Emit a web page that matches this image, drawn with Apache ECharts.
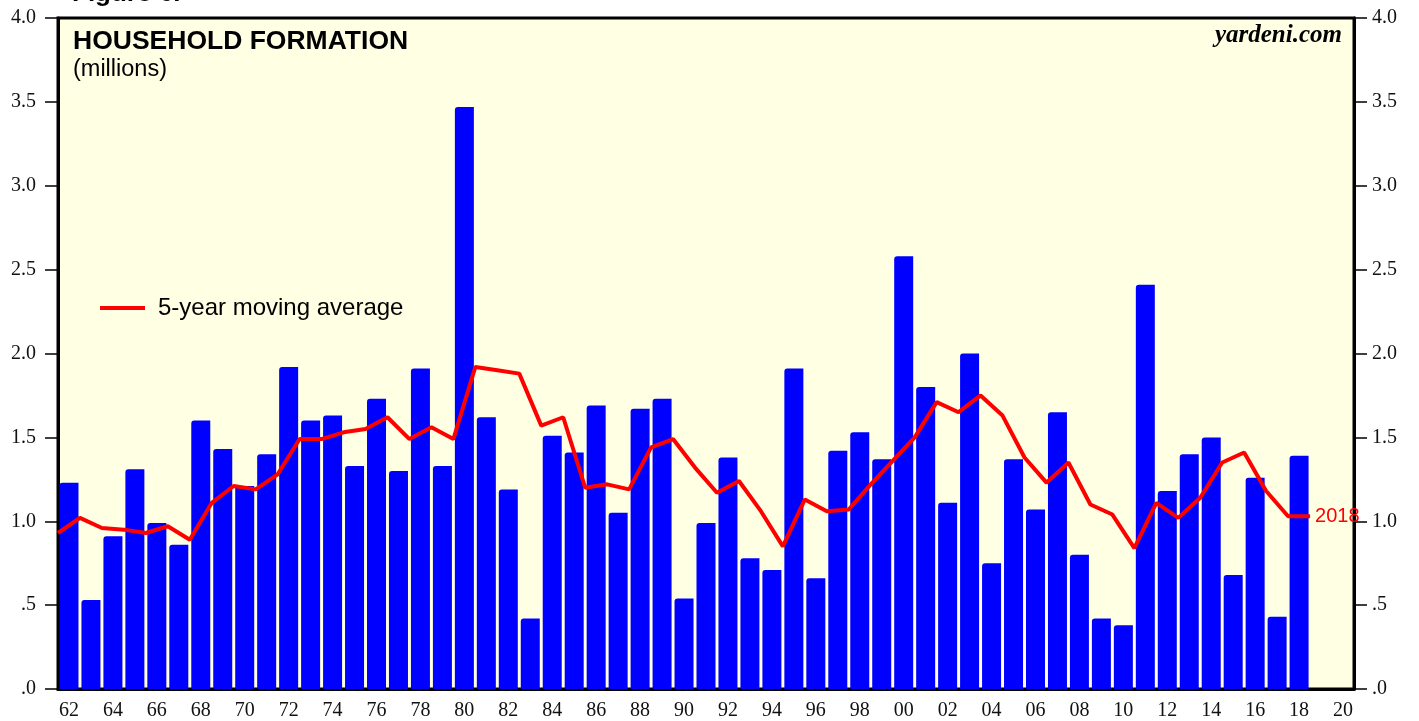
<!DOCTYPE html>
<html>
<head>
<meta charset="utf-8">
<title>Household Formation</title>
<script src="https://cdn.jsdelivr.net/npm/echarts@6/dist/echarts.min.js"></script>
<style>
  html, body { margin: 0; padding: 0; background: #fff; }
  #chart { width: 1419px; height: 721px; }
</style>
</head>
<body>
<div id="chart"></div>
<script>
// years on the x axis (axis runs to 2020, bars stop at 2018)
var years = [];
for (var y = 1962; y <= 2020; y++) years.push(String(y));

// household formation, millions, 1962..2018
var formation = [
  1.23, 0.53, 0.91, 1.31, 0.99, 0.86, 1.60, 1.43, 1.21, 1.40,
  1.92, 1.60, 1.63, 1.33, 1.73, 1.30, 1.91, 1.33, 3.47, 1.62,
  1.19, 0.42, 1.51, 1.41, 1.69, 1.05, 1.67, 1.73, 0.54, 0.99,
  1.38, 0.78, 0.71, 1.91, 0.66, 1.42, 1.53, 1.37, 2.58, 1.80,
  1.11, 2.00, 0.75, 1.37, 1.07, 1.65, 0.80, 0.42, 0.38, 2.41,
  1.18, 1.40, 1.50, 0.68, 1.26, 0.43, 1.39
];

// 5-year moving average, plotted at each year's end (1961..2018)
var maYears = [];
for (var k = 1961; k <= 2018; k++) maYears.push(k);
var maValues = [
  0.93, 1.02, 0.96, 0.95, 0.93, 0.97, 0.89, 1.11, 1.21, 1.19,
  1.28, 1.49, 1.49, 1.53, 1.55, 1.62, 1.49, 1.56, 1.49, 1.92,
  1.90, 1.88, 1.57, 1.62, 1.20, 1.22, 1.19, 1.44, 1.49, 1.32,
  1.17, 1.24, 1.06, 0.85, 1.13, 1.06, 1.07, 1.22, 1.36, 1.50,
  1.71, 1.65, 1.75, 1.63, 1.38, 1.23, 1.35, 1.10, 1.04, 0.84,
  1.11, 1.02, 1.14, 1.35, 1.41, 1.18, 1.03, 1.03
];

var maPoints = maYears.map(function (yr, i) { return [yr + 1, maValues[i]]; });

var serif = '"Liberation Serif", "DejaVu Serif", serif';
var sans = '"Liberation Sans", Arial, sans-serif';

function yLabel(v) {
  if (v === 0) return '.0';
  if (v === 0.5) return '.5';
  return v.toFixed(1);
}

var chart = echarts.init(document.getElementById('chart'));
chart.setOption({
  backgroundColor: '#ffffff',
  animation: false,
  title: {
    text: 'HOUSEHOLD FORMATION',
    subtext: '(millions)',
    left: 68,
    top: 23,
    itemGap: 3,
    textStyle: { fontFamily: sans, fontSize: 26.5, fontWeight: 'bold', color: '#000' },
    subtextStyle: { fontFamily: sans, fontSize: 23.5, color: '#000' }
  },
  legend: {
    left: 95,
    top: 291,
    data: ['5-year moving average'],
    icon: 'rect',
    itemWidth: 45,
    itemHeight: 4,
    textStyle: { fontFamily: sans, fontSize: 24, color: '#000', padding: [0, 0, 0, 8] }
  },
  graphic: [
    {
      type: 'text', left: 72, top: -19,
      style: { text: 'Figure 6.', font: 'bold 26px ' + sans, fill: '#000' }
    },
    {
      type: 'text', right: 77, top: 23, z: 10,
      style: { text: 'yardeni.com', font: 'italic bold 25px ' + serif, fill: '#000' }
    }
  ],
  grid: {
    left: 58, right: 65, top: 18, bottom: 30,
    show: true,
    backgroundColor: '#ffffe4',
    borderColor: '#000',
    borderWidth: 3
  },
  xAxis: [
    {
      type: 'category',
      data: years,
      boundaryGap: true,
      axisLine: { lineStyle: { color: '#000', width: 3 } },
      axisTick: { interval: 0, length: 6, lineStyle: { color: '#000', width: 2 } },
      axisLabel: {
        interval: 1,
        margin: 12,
        fontFamily: serif,
        fontSize: 20,
        color: '#111',
        formatter: function (v) { return v.slice(2); }
      },
      splitLine: { show: false }
    },
    {
      type: 'value',
      min: 1962,
      max: 2021,
      show: false,
      splitLine: { show: false }
    }
  ],
  yAxis: [
    {
      type: 'value', position: 'left', min: 0, max: 4, interval: 0.5,
      axisLine: { show: true, lineStyle: { color: '#000', width: 3 } },
      axisTick: { show: true, length: 13, lineStyle: { color: '#000', width: 1.5 } },
      axisLabel: { fontFamily: serif, fontSize: 20, color: '#111', margin: 22, formatter: yLabel },
      splitLine: { show: false }
    },
    {
      type: 'value', position: 'right', min: 0, max: 4, interval: 0.5,
      axisLine: { show: true, lineStyle: { color: '#000', width: 3 } },
      axisTick: { show: true, length: 13, lineStyle: { color: '#000', width: 1.5 } },
      axisLabel: { fontFamily: serif, fontSize: 20, color: '#111', margin: 18, formatter: yLabel },
      splitLine: { show: false }
    }
  ],
  series: [
    {
      name: 'Household formation',
      type: 'bar',
      xAxisIndex: 0,
      yAxisIndex: 0,
      data: formation,
      barWidth: 19,
      itemStyle: { color: '#0000ff', borderRadius: [3, 0, 0, 0] }
    },
    {
      name: '5-year moving average',
      type: 'line',
      xAxisIndex: 1,
      yAxisIndex: 0,
      data: maPoints,
      symbol: 'none',
      z: 5,
      lineStyle: { color: '#ff0000', width: 4 },
      itemStyle: { color: '#ff0000' },
      endLabel: {
        show: true,
        formatter: '2018',
        distance: 5,
        fontFamily: sans,
        fontSize: 20,
        color: '#ff0000'
      }
    }
  ]
});
</script>
</body>
</html>
